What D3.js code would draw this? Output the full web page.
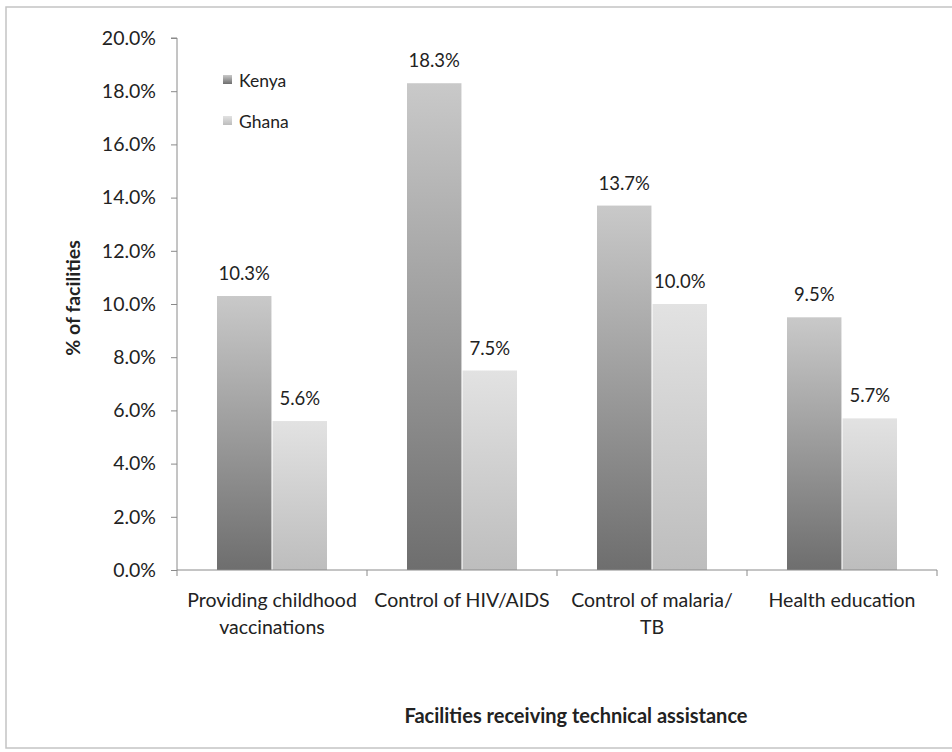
<!DOCTYPE html>
<html><head><meta charset="utf-8">
<script src="https://cdn.jsdelivr.net/npm/d3@7"></script>
<style>body{margin:0;background:#fff}svg{display:block}text{font-family:Lato,"Open Sans",sans-serif;fill:#222}</style>
</head><body><svg id="c" width="952" height="752"></svg>
<script>
const categories = [["Providing childhood","vaccinations"],["Control of HIV/AIDS"],["Control of malaria/","TB"],["Health education"]];
const seriesNames = ["Kenya","Ghana"];
const kenya = [10.3, 18.3, 13.7, 9.5];
const ghana = [5.6, 7.5, 10.0, 5.7];
const yTicks = [0,2,4,6,8,10,12,14,16,18,20];

const svg = d3.select("#c");
const defs = svg.append("defs");
const grads = [["gK","#c9c9c9","#6e6e6e"],["gG","#e2e2e2","#bdbdbd"]];
grads.forEach(([id,top,bot])=>{
  const g = defs.append("linearGradient").attr("id",id).attr("x1",0).attr("y1",0).attr("x2",0).attr("y2",1);
  g.append("stop").attr("offset","0%").attr("stop-color",top);
  g.append("stop").attr("offset","100%").attr("stop-color",bot);
});
// border
svg.append("rect").attr("x",6).attr("y",7).attr("width",960).attr("height",741).attr("fill","none").attr("stroke","#c4c4c4").attr("stroke-width",1.5);

const L=177,R=937,T=38,B=570;
const y = d3.scaleLinear().domain([0,20]).range([B,T]);
const x = d3.scaleBand().domain(d3.range(categories.length)).range([L,R]);
const inner = d3.scaleBand().domain([0,1]).range([40,150]).paddingInner(0.02);

// y axis
const ya = svg.append("g").attr("transform",`translate(${L},0)`).call(d3.axisLeft(y).tickValues(yTicks).tickSize(6).tickFormat(d=>d.toFixed(1)+"%"));
ya.select(".domain").attr("stroke","#8a8a8a").attr("d",`M-6,${T}H0V${B}`);
ya.selectAll(".tick line").attr("stroke","#8a8a8a");
ya.selectAll(".tick text").attr("font-size",19.5).attr("fill","#222").attr("x",-21).attr("font-family","Lato,sans-serif");

// bars
const data = [kenya, ghana];
data.forEach((vals,si)=>{
  svg.append("g").selectAll("rect").data(vals).join("rect")
    .attr("x",(d,i)=>x(i)+inner(si)).attr("width",inner.bandwidth())
    .attr("y",d=>y(d)).attr("height",d=>B-y(d))
    .attr("fill",`url(#${grads[si][0]})`);
  svg.append("g").selectAll("text").data(vals).join("text")
    .attr("x",(d,i)=>x(i)+inner(si)+inner.bandwidth()/2).attr("y",d=>y(d)-16)
    .attr("text-anchor","middle").attr("font-size",18.5).text(d=>d.toFixed(1)+"%");
});

// x axis
const xa = svg.append("g");
xa.append("line").attr("x1",L).attr("x2",R).attr("y1",B).attr("y2",B).attr("stroke","#8a8a8a");
xa.selectAll("line.t").data(d3.range(categories.length+1)).join("line").attr("class","t")
  .attr("x1",i=>L+i*x.bandwidth()).attr("x2",i=>L+i*x.bandwidth()).attr("y1",B).attr("y2",B+6).attr("stroke","#8a8a8a");
categories.forEach((lines,i)=>{
  const t = xa.append("text").attr("x",x(i)+x.bandwidth()/2).attr("y",607).attr("text-anchor","middle").attr("font-size",19.5);
  lines.forEach((ln,j)=>t.append("tspan").attr("x",x(i)+x.bandwidth()/2).attr("dy",j?27:0).text(ln));
});

// titles
svg.append("text").attr("transform","translate(80,298) rotate(-90)").attr("text-anchor","middle").attr("font-size",19.5).attr("font-weight","bold").text("% of facilities");
svg.append("text").attr("x",576).attr("y",723).attr("text-anchor","middle").attr("font-size",20).attr("font-weight","bold").text("Facilities receiving technical assistance");

// legend
seriesNames.forEach((n,i)=>{
  const g = svg.append("g").attr("transform",`translate(223,${80+i*41})`);
  g.append("rect").attr("x",0).attr("y",-5).attr("width",9).attr("height",9).attr("fill",`url(#${grads[i][0]})`);
  g.append("text").attr("x",16).attr("y",7).attr("font-size",17.5).text(n);
});
</script></body></html>
